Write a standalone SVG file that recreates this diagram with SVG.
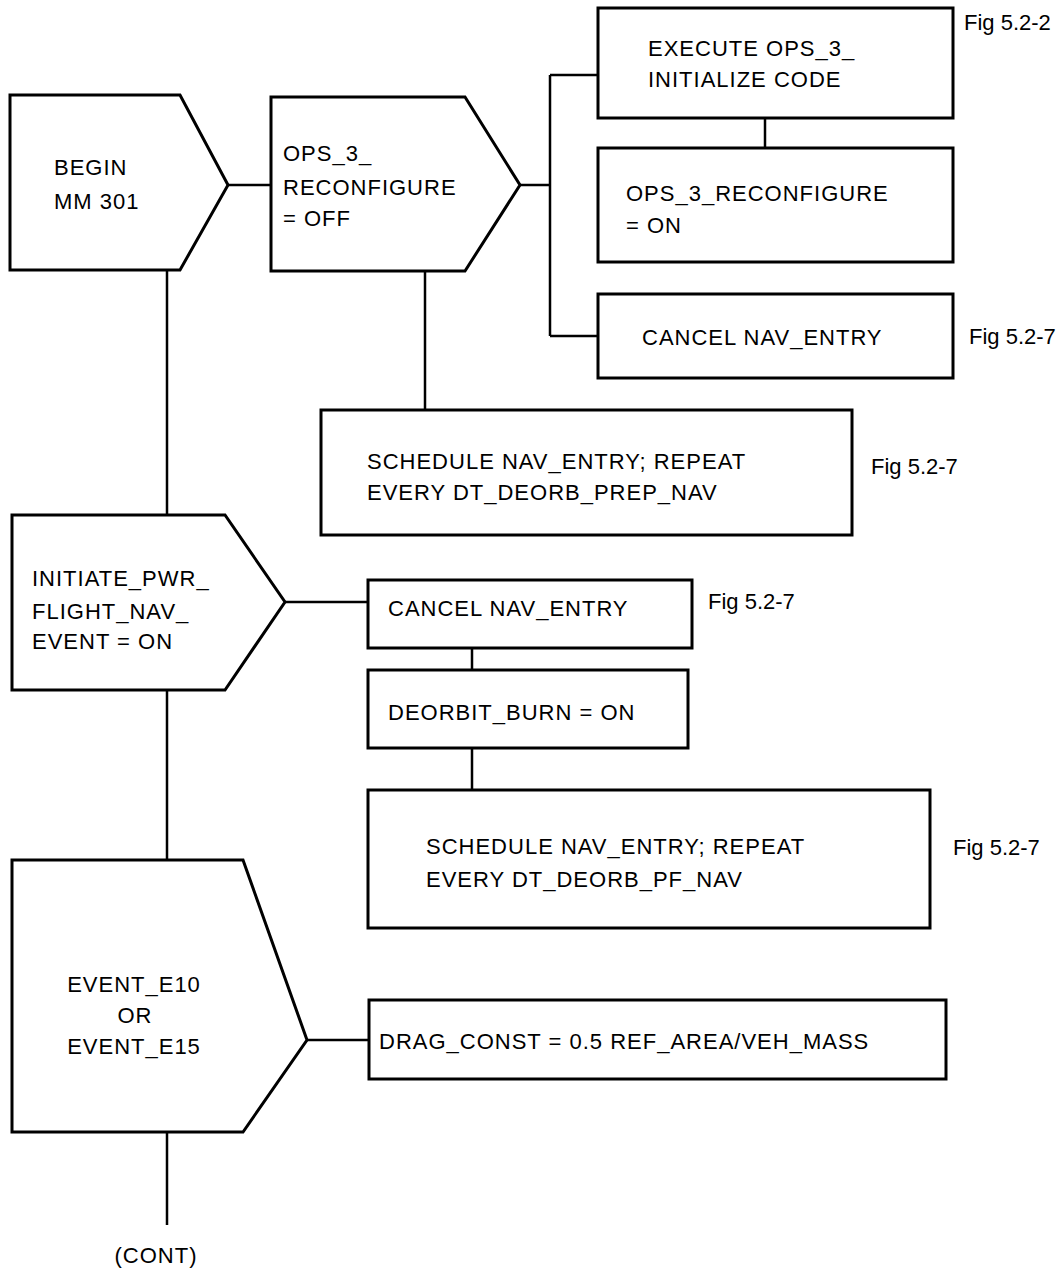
<svg xmlns="http://www.w3.org/2000/svg" width="1064" height="1276" viewBox="0 0 1064 1276">
<style>
.s{fill:#fff;stroke:#000;stroke-width:3}
.c{fill:none;stroke:#000;stroke-width:2.5}
text{font-family:"Liberation Sans",Arial,sans-serif;font-size:22px;letter-spacing:1px;fill:#000}
.f{letter-spacing:0}
</style>
<rect width="1064" height="1276" fill="#fff"/>
<g id="connectors">
<path class="c" d="M228 185H271"/>
<path class="c" d="M520 185H550M550 75V336M550 75H598M550 336H598"/>
<path class="c" d="M765 118V148"/>
<path class="c" d="M425 271V410"/>
<path class="c" d="M167 270V515M167 690V860M167 1132V1225"/>
<path class="c" d="M285 602H368"/>
<path class="c" d="M472 648V670M472 748V790"/>
<path class="c" d="M307 1040H369"/>
</g>
<g id="begin">
<polygon class="s" points="10,95 180,95 228,185 180,270 10,270"/>
<text x="54" y="175">BEGIN</text>
<text x="54" y="209">MM 301</text>
</g>
<g id="ops3_off">
<polygon class="s" points="271,97 465,97 520,185 465,271 271,271"/>
<text x="283" y="161">OPS_3_</text>
<text x="283" y="195">RECONFIGURE</text>
<text x="283" y="226">= OFF</text>
</g>
<g id="execute">
<rect class="s" x="598" y="8" width="355" height="110"/>
<text x="648" y="56">EXECUTE OPS_3_</text>
<text x="648" y="87">INITIALIZE CODE</text>
<text class="f" x="964" y="30">Fig 5.2-2</text>
</g>
<g id="ops3_on">
<rect class="s" x="598" y="148" width="355" height="114"/>
<text x="626" y="201">OPS_3_RECONFIGURE</text>
<text x="626" y="233">= ON</text>
</g>
<g id="cancel1">
<rect class="s" x="598" y="294" width="355" height="84"/>
<text x="642" y="345">CANCEL NAV_ENTRY</text>
<text class="f" x="969" y="344">Fig 5.2-7</text>
</g>
<g id="schedule1">
<rect class="s" x="321" y="410" width="531" height="125"/>
<text x="367" y="469">SCHEDULE NAV_ENTRY; REPEAT</text>
<text x="367" y="500">EVERY DT_DEORB_PREP_NAV</text>
<text class="f" x="871" y="474">Fig 5.2-7</text>
</g>
<g id="initiate">
<polygon class="s" points="12,515 225,515 285,602 225,690 12,690"/>
<text x="32" y="586">INITIATE_PWR_</text>
<text x="32" y="619">FLIGHT_NAV_</text>
<text x="32" y="649">EVENT = ON</text>
</g>
<g id="cancel2">
<rect class="s" x="368" y="580" width="324" height="68"/>
<text x="388" y="616">CANCEL NAV_ENTRY</text>
<text class="f" x="708" y="609">Fig 5.2-7</text>
</g>
<g id="deorbit">
<rect class="s" x="368" y="670" width="320" height="78"/>
<text x="388" y="720">DEORBIT_BURN = ON</text>
</g>
<g id="schedule2">
<rect class="s" x="368" y="790" width="562" height="138"/>
<text x="426" y="854">SCHEDULE NAV_ENTRY; REPEAT</text>
<text x="426" y="887">EVERY DT_DEORB_PF_NAV</text>
<text class="f" x="953" y="855">Fig 5.2-7</text>
</g>
<g id="event">
<polygon class="s" points="12,860 243,860 307,1040 243,1132 12,1132"/>
<text x="134" y="992" text-anchor="middle">EVENT_E10</text>
<text x="135" y="1023" text-anchor="middle">OR</text>
<text x="134" y="1054" text-anchor="middle">EVENT_E15</text>
</g>
<g id="drag">
<rect class="s" x="369" y="1000" width="577" height="79"/>
<text x="379" y="1049">DRAG_CONST = 0.5 REF_AREA/VEH_MASS</text>
</g>
<g id="cont">
<text x="156" y="1263" text-anchor="middle">(CONT)</text>
</g>
</svg>
